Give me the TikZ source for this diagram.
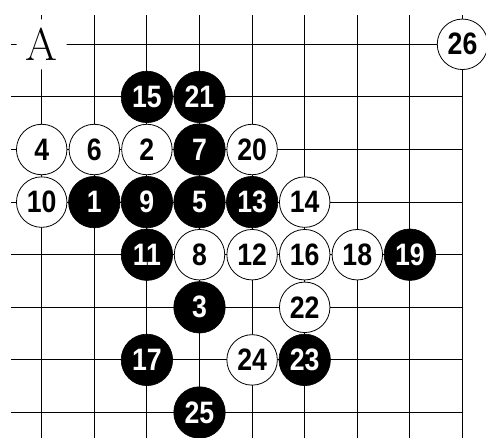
\documentclass[tikz,border=0pt]{standalone}
\usepackage{fontspec}
\newfontfamily\stonefont{Liberation Sans}[FakeStretch=0.86]
\tikzset{
  gridline/.style={line width=1.1pt, black},
  bstone/.style={circle, fill=black, draw=black, line width=0.6pt, minimum size=51.5pt, inner sep=0pt, text=white, font=\stonefont\bfseries\fontsize{31}{31}\selectfont},
  wstone/.style={circle, fill=white, draw=black, line width=0.8pt, minimum size=50.5pt, inner sep=0pt, text=black, font=\stonefont\bfseries\fontsize{31}{31}\selectfont},
  marklabel/.style={circle, fill=white, minimum size=50pt, inner sep=0pt, font=\fontsize{46}{46}\selectfont},
}
\begin{document}
\begin{tikzpicture}[x=1pt, y=-1pt]
\useasboundingbox (0,0) rectangle (486,437);
\clip (0,0) rectangle (486,437);
% grid
\foreach \i in {0,...,8} {
  \draw[gridline] ({41.7+52.6*\i},15) -- ({41.7+52.6*\i},440);
}
\foreach \j in {0,...,7} {
  \draw[gridline] (11,{44.3+52.6*\j}) -- (462.5,{44.3+52.6*\j});
}
\newcommand{\px}[1]{41.7+52.6*#1}
\newcommand{\py}[1]{44.3+52.6*#1}
% label A
\node[marklabel] (A) at ({\px{0}},{\py{0}}) {A};
% stones
\node[wstone] (s26) at ({\px{8}},{\py{0}}) {26};
\node[bstone] (s15) at ({\px{2}},{\py{1}}) {15};
\node[bstone] (s21) at ({\px{3}},{\py{1}}) {21};
\node[wstone] (s4) at ({\px{0}},{\py{2}}) {4};
\node[wstone] (s6) at ({\px{1}},{\py{2}}) {6};
\node[wstone] (s2) at ({\px{2}},{\py{2}}) {2};
\node[bstone] (s7) at ({\px{3}},{\py{2}}) {7};
\node[wstone] (s20) at ({\px{4}},{\py{2}}) {20};
\node[wstone] (s10) at ({\px{0}},{\py{3}}) {10};
\node[bstone] (s1) at ({\px{1}},{\py{3}}) {1};
\node[bstone] (s9) at ({\px{2}},{\py{3}}) {9};
\node[bstone] (s5) at ({\px{3}},{\py{3}}) {5};
\node[bstone] (s13) at ({\px{4}},{\py{3}}) {13};
\node[wstone] (s14) at ({\px{5}},{\py{3}}) {14};
\node[bstone] (s11) at ({\px{2}},{\py{4}}) {11};
\node[wstone] (s8) at ({\px{3}},{\py{4}}) {8};
\node[wstone] (s12) at ({\px{4}},{\py{4}}) {12};
\node[wstone] (s16) at ({\px{5}},{\py{4}}) {16};
\node[wstone] (s18) at ({\px{6}},{\py{4}}) {18};
\node[bstone] (s19) at ({\px{7}},{\py{4}}) {19};
\node[bstone] (s3) at ({\px{3}},{\py{5}}) {3};
\node[wstone] (s22) at ({\px{5}},{\py{5}}) {22};
\node[bstone] (s17) at ({\px{2}},{\py{6}}) {17};
\node[wstone] (s24) at ({\px{4}},{\py{6}}) {24};
\node[bstone] (s23) at ({\px{5}},{\py{6}}) {23};
\node[bstone] (s25) at ({\px{3}},{\py{7}}) {25};
\end{tikzpicture}
\end{document}
